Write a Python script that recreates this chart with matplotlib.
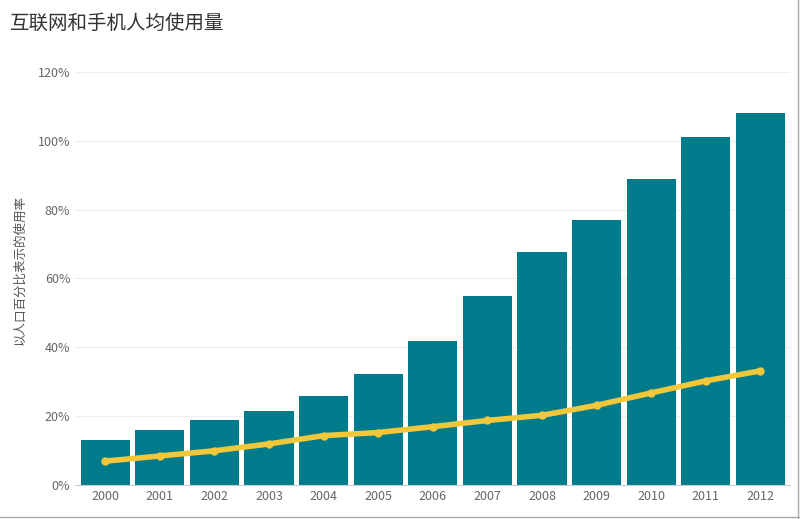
import matplotlib
matplotlib.use("Agg")
import matplotlib.pyplot as plt
from matplotlib.ticker import FuncFormatter

years = ["2000","2001","2002","2003","2004","2005","2006","2007","2008","2009","2010","2011","2012"]
internet = [13.2,16.0,19.0,21.5,26.0,32.2,42.0,55.0,67.6,77.0,88.8,101.0,108.0]
mobile = [7.0,8.5,10.0,12.0,14.4,15.3,17.0,18.8,20.3,23.2,26.8,30.3,33.2]

plt.rcParams['font.family'] = ['Noto Sans CJK SC', 'DejaVu Sans']
fig = plt.figure(figsize=(8, 5.19), dpi=100)
ax = fig.add_axes([0.094, 0.065, 0.894, 0.83])
x = range(len(years))
ax.bar(x, internet, width=0.9, color="#007b8c", zorder=2)
ax.plot(x, mobile, color="#f2c73a", lw=4, marker="o", ms=5, zorder=3)
ax.set_xlim(-0.55, len(years)-0.45)
ax.set_ylim(0, 125)
ax.set_yticks([0,20,40,60,80,100,120])
ax.yaxis.set_major_formatter(FuncFormatter(lambda v, p: f"{int(v)}%"))
ax.set_xticks(list(x))
ax.set_xticklabels(years)
ax.tick_params(length=0, labelsize=9, colors="#666666")
ax.grid(axis="y", color="#eeeeee", lw=0.8, zorder=0)
for s in ["top","right","left"]:
    ax.spines[s].set_visible(False)
ax.spines["bottom"].set_color("#cccccc")
ax.set_ylabel("以人口百分比表示的使用率", fontsize=9, color="#555555", labelpad=8)
fig.text(0.012, 0.955, "互联网和手机人均使用量", fontsize=14, color="#333333", va="center")
fig.add_artist(plt.Line2D([0,1],[0.003,0.003], color="#aaaaaa", lw=1, transform=fig.transFigure))
fig.add_artist(plt.Line2D([0.998,0.998],[0,1], color="#aaaaaa", lw=1, transform=fig.transFigure))
fig.savefig("out.png")
